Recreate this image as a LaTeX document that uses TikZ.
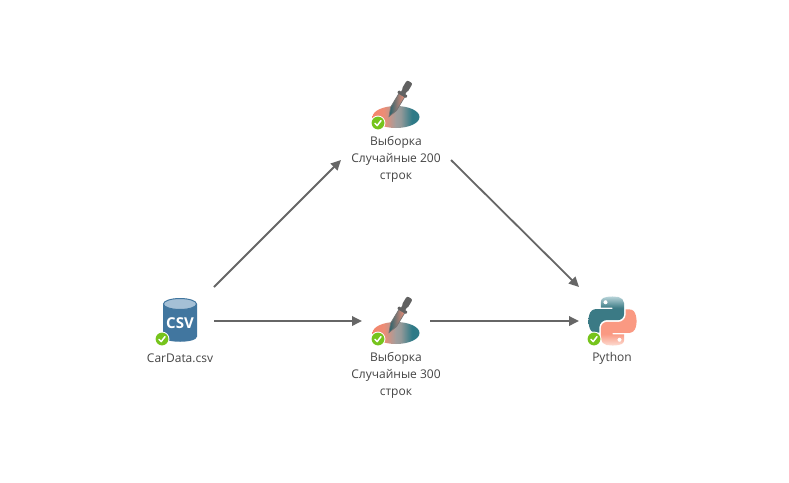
\documentclass[tikz,border=0pt]{standalone}
\usepackage{fontspec}
\setmainfont{Open Sans}
\usetikzlibrary{arrows.meta}
\definecolor{linegray}{HTML}{666666}
\definecolor{txt}{HTML}{444444}
\definecolor{okgreen}{HTML}{76C41C}
\definecolor{csvblue}{HTML}{41769F}
\definecolor{csvtop}{HTML}{A5C0D6}
\definecolor{salmon}{HTML}{F2907A}
\definecolor{teal1}{HTML}{2F7A86}
\pgfdeclarehorizontalshading{dish}{100bp}{
  rgb(0bp)=(0.96,0.52,0.42); rgb(25bp)=(0.96,0.52,0.42); rgb(37bp)=(0.93,0.55,0.46); rgb(50bp)=(0.62,0.62,0.62);
  rgb(55bp)=(0.58,0.60,0.60); rgb(67bp)=(0.18,0.48,0.53); rgb(100bp)=(0.18,0.48,0.53)}
\pgfdeclareverticalshading{pytop}{100bp}{
  rgb(0bp)=(0.23,0.48,0.52); rgb(59bp)=(0.23,0.48,0.52); rgb(75bp)=(0.72,0.83,0.85); rgb(100bp)=(0.72,0.83,0.85)}
\pgfdeclareverticalshading{pybot}{100bp}{
  rgb(0bp)=(0.99,0.86,0.82); rgb(25bp)=(0.99,0.86,0.82); rgb(41bp)=(0.98,0.60,0.51); rgb(100bp)=(0.98,0.60,0.51)}
\tikzset{
  x=1pt,y=-1pt,
  port/.style={minimum width=#1,minimum height=68pt,inner sep=0pt,outer sep=0pt},
  lbl/.style={font=\fontsize{12}{17}\selectfont,text=txt,align=center,inner sep=0pt},
  conn/.style={draw=linegray,line width=1.8pt,-{Triangle[length=10pt,width=9.5pt]}},
  pics/badge/.style={code={
    \fill[white] (0,0) circle (7.4);
    \fill[okgreen] (0,0) circle (6.4);
    \draw[white,line width=1.5pt,line cap=round,line join=round] (-3,0.3) -- (-0.8,2.6) -- (3,-2.4);
  }},
  pics/sampler/.style={code={
    \shade[shading=dish] (0,0) ellipse [x radius=23.5,y radius=11];
    \begin{scope}[shift={(-7,-0.5)},rotate=59]
      \shade[left color=teal1!80!black,right color=salmon,draw=black!55,line width=0.7pt]
        (9,-3.4) -- (25,-3.4) -- (25,3.4) -- (9,3.4) -- (0,0) -- cycle;
      \fill[black!62,rounded corners=0.8pt] (24.5,-5.2) rectangle (27.5,5.2);
      \fill[black!62] (27,-2.5) rectangle (31,2.5);
      \fill[black!62,rounded corners=2pt] (30,-3.3) rectangle (40.5,3.3);
    \end{scope}
    \path (-18,6) pic {badge};
  }},
  pics/csvicon/.style={code={
    \fill[csvblue] (-17,-17) -- (-17,15.5) .. controls (-17,22.5) and (17,22.5) .. (17,15.5) -- (17,-17) -- cycle;
    \fill[csvtop,draw=csvblue,line width=1pt] (0,-17) ellipse [x radius=16.5,y radius=5.5];
    \node[text=white,font=\bfseries\fontsize{15}{15}\selectfont,inner sep=0pt] at (0,2) {CSV};
    \path (-18,18) pic {badge};
  }},
  pics/pylogo/.style={code={
    \begin{scope}[scale=0.445,shift={(-55.2,-55.1)}]
      \path[even odd rule,shade,shading=pytop]
        (54.9,0) .. controls (50.3,0) and (46,0.4) .. (42.2,1.1)
        .. controls (31,3.1) and (29,7.2) .. (29,14.8) -- (29,24.8) -- (55,24.8) -- (55,28.2) -- (19.2,28.2)
        .. controls (11.6,28.2) and (5,32.7) .. (2.9,41.4)
        .. controls (0.5,51.3) and (0.4,57.5) .. (2.9,67.9)
        .. controls (4.8,75.6) and (9.1,81.1) .. (16.7,81.1) -- (25.7,81.1) -- (25.7,69.2)
        .. controls (25.7,60.6) and (33.2,53) .. (42.2,53) -- (68.1,53)
        .. controls (75.3,53) and (81.1,47) .. (81.1,39.8) -- (81.1,14.8)
        .. controls (81.1,7.7) and (75.1,2.4) .. (68.1,1.1)
        .. controls (63.5,0.4) and (59.5,0) .. (54.9,0) -- cycle
        (39.5,13) circle (4.8);
      \path[even odd rule,shade,shading=pybot]
        (55.5,110.2) .. controls (60.1,110.2) and (64.4,109.8) .. (68.2,109.1)
        .. controls (79.4,107.1) and (81.4,103) .. (81.4,95.4) -- (81.4,85.4) -- (55.4,85.4) -- (55.4,82) -- (91.2,82)
        .. controls (98.8,82) and (105.4,77.5) .. (107.5,68.8)
        .. controls (109.9,58.9) and (110,52.7) .. (107.5,42.3)
        .. controls (105.6,34.6) and (101.3,29.1) .. (93.7,29.1) -- (84.7,29.1) -- (84.7,41)
        .. controls (84.7,49.6) and (77.2,57.2) .. (68.2,57.2) -- (42.3,57.2)
        .. controls (35.1,57.2) and (29.3,63.2) .. (29.3,70.4) -- (29.3,95.4)
        .. controls (29.3,102.5) and (35.3,107.8) .. (42.3,109.1)
        .. controls (46.9,109.8) and (50.9,110.2) .. (55.5,110.2) -- cycle
        (70.9,97.2) circle (4.8);
    \end{scope}
    \path (-18.5,18) pic {badge};
  }},
}
\begin{document}
\begin{tikzpicture}
\useasboundingbox (0,0) rectangle (789,482);
\fill[white] (0,0) rectangle (789,482);
\node[port=68pt] (csv) at (180,321) {};
\node[port=110pt] (s1) at (396,126) {};
\node[port=68pt] (s2) at (396,321) {};
\node[port=68pt] (py) at (613,321) {};
\path (180,321) pic {csvicon};
\path (396,117) pic {sampler};
\path (396,333) pic {sampler};
\path (612.5,321) pic {pylogo};
\node[lbl] (lcsv) at (180,358) {CarData.csv};
\node[lbl] (ls1) at (396,159) {Выборка\\Случайные 200\\строк};
\node[lbl] (ls2) at (396,375) {Выборка\\Случайные 300\\строк};
\node[lbl] (lpy) at (612,358) {Python};
\draw[conn] (csv.north east) -- (s1.south west);
\draw[conn] (csv.east) -- (s2.west);
\draw[conn] (s1.south east) -- (py.north west);
\draw[conn] (s2.east) -- (py.west);
\end{tikzpicture}
\end{document}
